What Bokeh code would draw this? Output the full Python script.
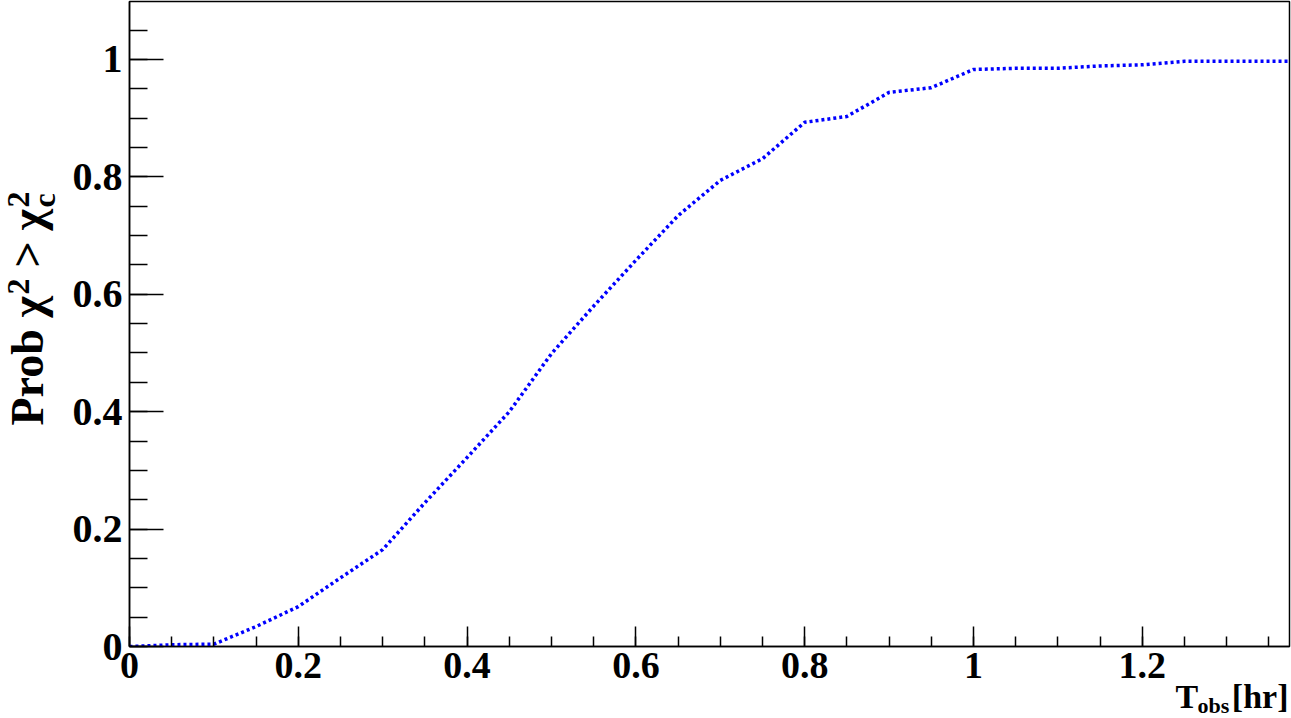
import numpy as np
from bokeh.plotting import figure
from bokeh.layouts import column
from bokeh.models import (SingleIntervalTicker, NumeralTickFormatter, Range1d, GridBox,
                          ColumnDataSource)
from bokeh.core.properties import value
from bokeh.embed import file_html
from bokeh.resources import INLINE

# data
t_obs = [0.0, 0.05, 0.1, 0.15, 0.2, 0.25, 0.3, 0.35, 0.4, 0.45, 0.5, 0.55, 0.6, 0.65,
         0.7, 0.75, 0.8, 0.85, 0.9, 0.95, 1.0, 1.05, 1.1, 1.15, 1.2, 1.25, 1.3, 1.35, 1.375]
prob = [0.0, 0.003, 0.004, 0.034, 0.068, 0.117, 0.165, 0.245, 0.322, 0.400, 0.499, 0.580,
        0.658, 0.734, 0.794, 0.831, 0.893, 0.903, 0.944, 0.952, 0.983, 0.985, 0.985, 0.989,
        0.991, 0.997, 0.997, 0.997, 0.997]

# axis title pieces
x_title_parts = ["T", "obs", "[hr]"]
y_title_parts = ["Prob", "χ", "2", ">", "χ", "2", "c"]

X_END = 1.3744
Y_END = 1.0988
FONT = "Liberation Serif"
W, H = 1291, 718

p = figure(width=W, height=H, x_range=Range1d(0, X_END), y_range=Range1d(0, Y_END),
           output_backend="svg", toolbar_location=None,
           min_border_left=129, min_border_right=2, min_border_top=1, min_border_bottom=72)
p.grid.visible = False
p.outline_line_color = "black"
p.outline_line_width = 1.5
p.background_fill_color = "white"
p.border_fill_color = "white"

for ax in (p.xaxis[0], p.yaxis[0]):
    ax.axis_line_color = "black"
    ax.axis_line_width = 1.5
    ax.major_tick_out = 0
    ax.minor_tick_out = 0
    ax.major_tick_line_color = "black"
    ax.minor_tick_line_color = "black"
    ax.major_tick_line_width = 1.5
    ax.minor_tick_line_width = 1.5
    ax.major_label_text_font = FONT
    ax.major_label_text_font_style = "bold"
    ax.major_label_text_color = "black"
    ax.formatter = NumeralTickFormatter(format="0.[0]")
    ax.ticker = SingleIntervalTicker(interval=0.2, num_minor_ticks=4)

p.xaxis.major_tick_in = 20
p.xaxis.minor_tick_in = 10
p.xaxis.major_label_text_font_size = "38px"
p.xaxis.major_label_standoff = 6
p.yaxis.major_tick_in = 34
p.yaxis.minor_tick_in = 18
p.yaxis.major_label_text_font_size = "40px"
p.yaxis.major_label_standoff = 7

p.line(t_obs, prob, line_color="#0000ff", line_width=3.5, line_dash="3 3")

# transparent overlay canvas (pixel coordinates, y downwards) for the axis titles
ov = figure(width=W, height=H, x_range=Range1d(0, W), y_range=Range1d(H, 0),
            output_backend="svg", toolbar_location=None,
            x_axis_type=None, y_axis_type=None, min_border=0,
            min_border_left=0, min_border_right=0, min_border_top=0, min_border_bottom=0)
ov.grid.visible = False
ov.outline_line_color = None
ov.background_fill_color = None
ov.border_fill_color = None

A = np.pi / 2
xt = ColumnDataSource(dict(
    x=[1175, 1197], y=[696, 705], text=x_title_parts[:2], size=["34px", "22px"]))
ov.text(x="x", y="y", text="text", text_font_size="size", source=xt,
        text_font=value(FONT), text_font_style="bold", text_color="black",
        text_align="left", text_baseline="alphabetic")
ov.text(x=[1288], y=[696], text=[x_title_parts[2]], text_font_size="34px",
        text_font=value(FONT), text_font_style="bold", text_color="black",
        text_align="right", text_baseline="alphabetic")

yt = ColumnDataSource(dict(
    x=[27, 27, 18, 27, 27, 18, 43],
    y=[425, 317, 294, 267, 230, 207, 207],
    text=y_title_parts,
    size=["46px", "46px", "32px", "46px", "46px", "32px", "32px"]))
ov.text(x="x", y="y", text="text", text_font_size="size", source=yt, angle=A,
        text_font=value(FONT), text_font_style="bold", text_color="black",
        text_align="left", text_baseline="alphabetic")

layout = GridBox(children=[(p, 0, 0), (column(ov), 0, 0)])

open("out.html", "w").write(file_html(layout, INLINE))
